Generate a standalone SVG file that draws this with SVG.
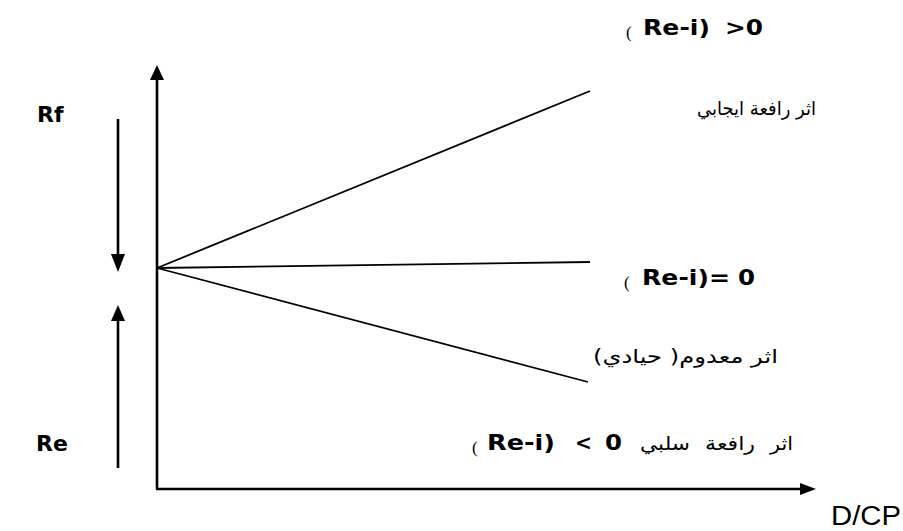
<svg xmlns="http://www.w3.org/2000/svg" width="903" height="531" viewBox="0 0 903 531">
<style>
.ax{stroke:#000;stroke-width:2.6;fill:none}
.ln{stroke:#000;stroke-width:1.8;fill:none}
.b{font-family:"DejaVu Sans","Liberation Sans",sans-serif;font-weight:bold;font-size:22px;fill:#000}
.p{font-family:"Liberation Serif",serif;font-size:17px;fill:#000}
.ar{font-family:"DejaVu Sans","Noto Sans",sans-serif;font-size:19px;fill:#000}
.r{font-family:"Liberation Sans",sans-serif;font-size:27px;fill:#000}
</style>
<rect width="903" height="531" fill="#fff"/>
<g id="axes">
<line class="ax" x1="157" y1="489" x2="157" y2="78"/>
<polygon points="157,65 150,80 164,80" fill="#000"/>
<line class="ax" x1="156" y1="489" x2="802" y2="489"/>
<polygon points="816,489 800,483 800,495" fill="#000"/>
</g>
<g id="side-arrows">
<line class="ax" x1="118" y1="119" x2="118" y2="258"/>
<polygon points="118,272 111,254 125,254" fill="#000"/>
<line class="ax" x1="118" y1="468" x2="118" y2="318"/>
<polygon points="118,305 111,321 125,321" fill="#000"/>
</g>
<g id="connectors">
<line class="ln" x1="157" y1="268" x2="590" y2="91"/>
<line class="ln" x1="157" y1="268" x2="590" y2="262"/>
<line class="ln" x1="157" y1="268" x2="588" y2="382"/>
</g>
<g id="labels">
<text class="b" x="37" y="122" font-size="20">Rf</text>
<text class="b" x="36" y="451" font-size="20">Re</text>
<text class="p" x="626" y="38">(</text>
<text class="b" x="643" y="35" textLength="67" lengthAdjust="spacingAndGlyphs">Re-i)</text>
<text class="b" x="725" y="35" textLength="38" lengthAdjust="spacingAndGlyphs">&gt;0</text>
<text class="ar" x="816" y="115" text-anchor="start" direction="rtl" textLength="119" lengthAdjust="spacingAndGlyphs">اثر رافعة ايجابي</text>
<text class="p" x="624" y="288">(</text>
<text class="b" x="642" y="285" textLength="88" lengthAdjust="spacingAndGlyphs">Re-i)=</text>
<text class="b" x="738" y="285" textLength="17" lengthAdjust="spacingAndGlyphs">0</text>
<text class="ar" x="778" y="363" text-anchor="start" direction="rtl" textLength="185" lengthAdjust="spacingAndGlyphs">اثر معدوم( حيادي)</text>
<text class="p" x="472" y="453">(</text>
<text class="b" x="487" y="450" textLength="68" lengthAdjust="spacingAndGlyphs">Re-i)</text>
<text class="b" x="575" y="450" textLength="17" lengthAdjust="spacingAndGlyphs">&lt;</text>
<text class="b" x="605" y="450" textLength="17" lengthAdjust="spacingAndGlyphs">0</text>
<text class="ar" x="770" y="450" textLength="23" lengthAdjust="spacingAndGlyphs">اثر</text>
<text class="ar" x="705" y="450" textLength="50" lengthAdjust="spacingAndGlyphs">رافعة</text>
<text class="ar" x="640" y="450" textLength="50" lengthAdjust="spacingAndGlyphs">سلبي</text>
<text class="r" x="831" y="525" textLength="70" lengthAdjust="spacingAndGlyphs">D/CP</text>
</g>
</svg>
